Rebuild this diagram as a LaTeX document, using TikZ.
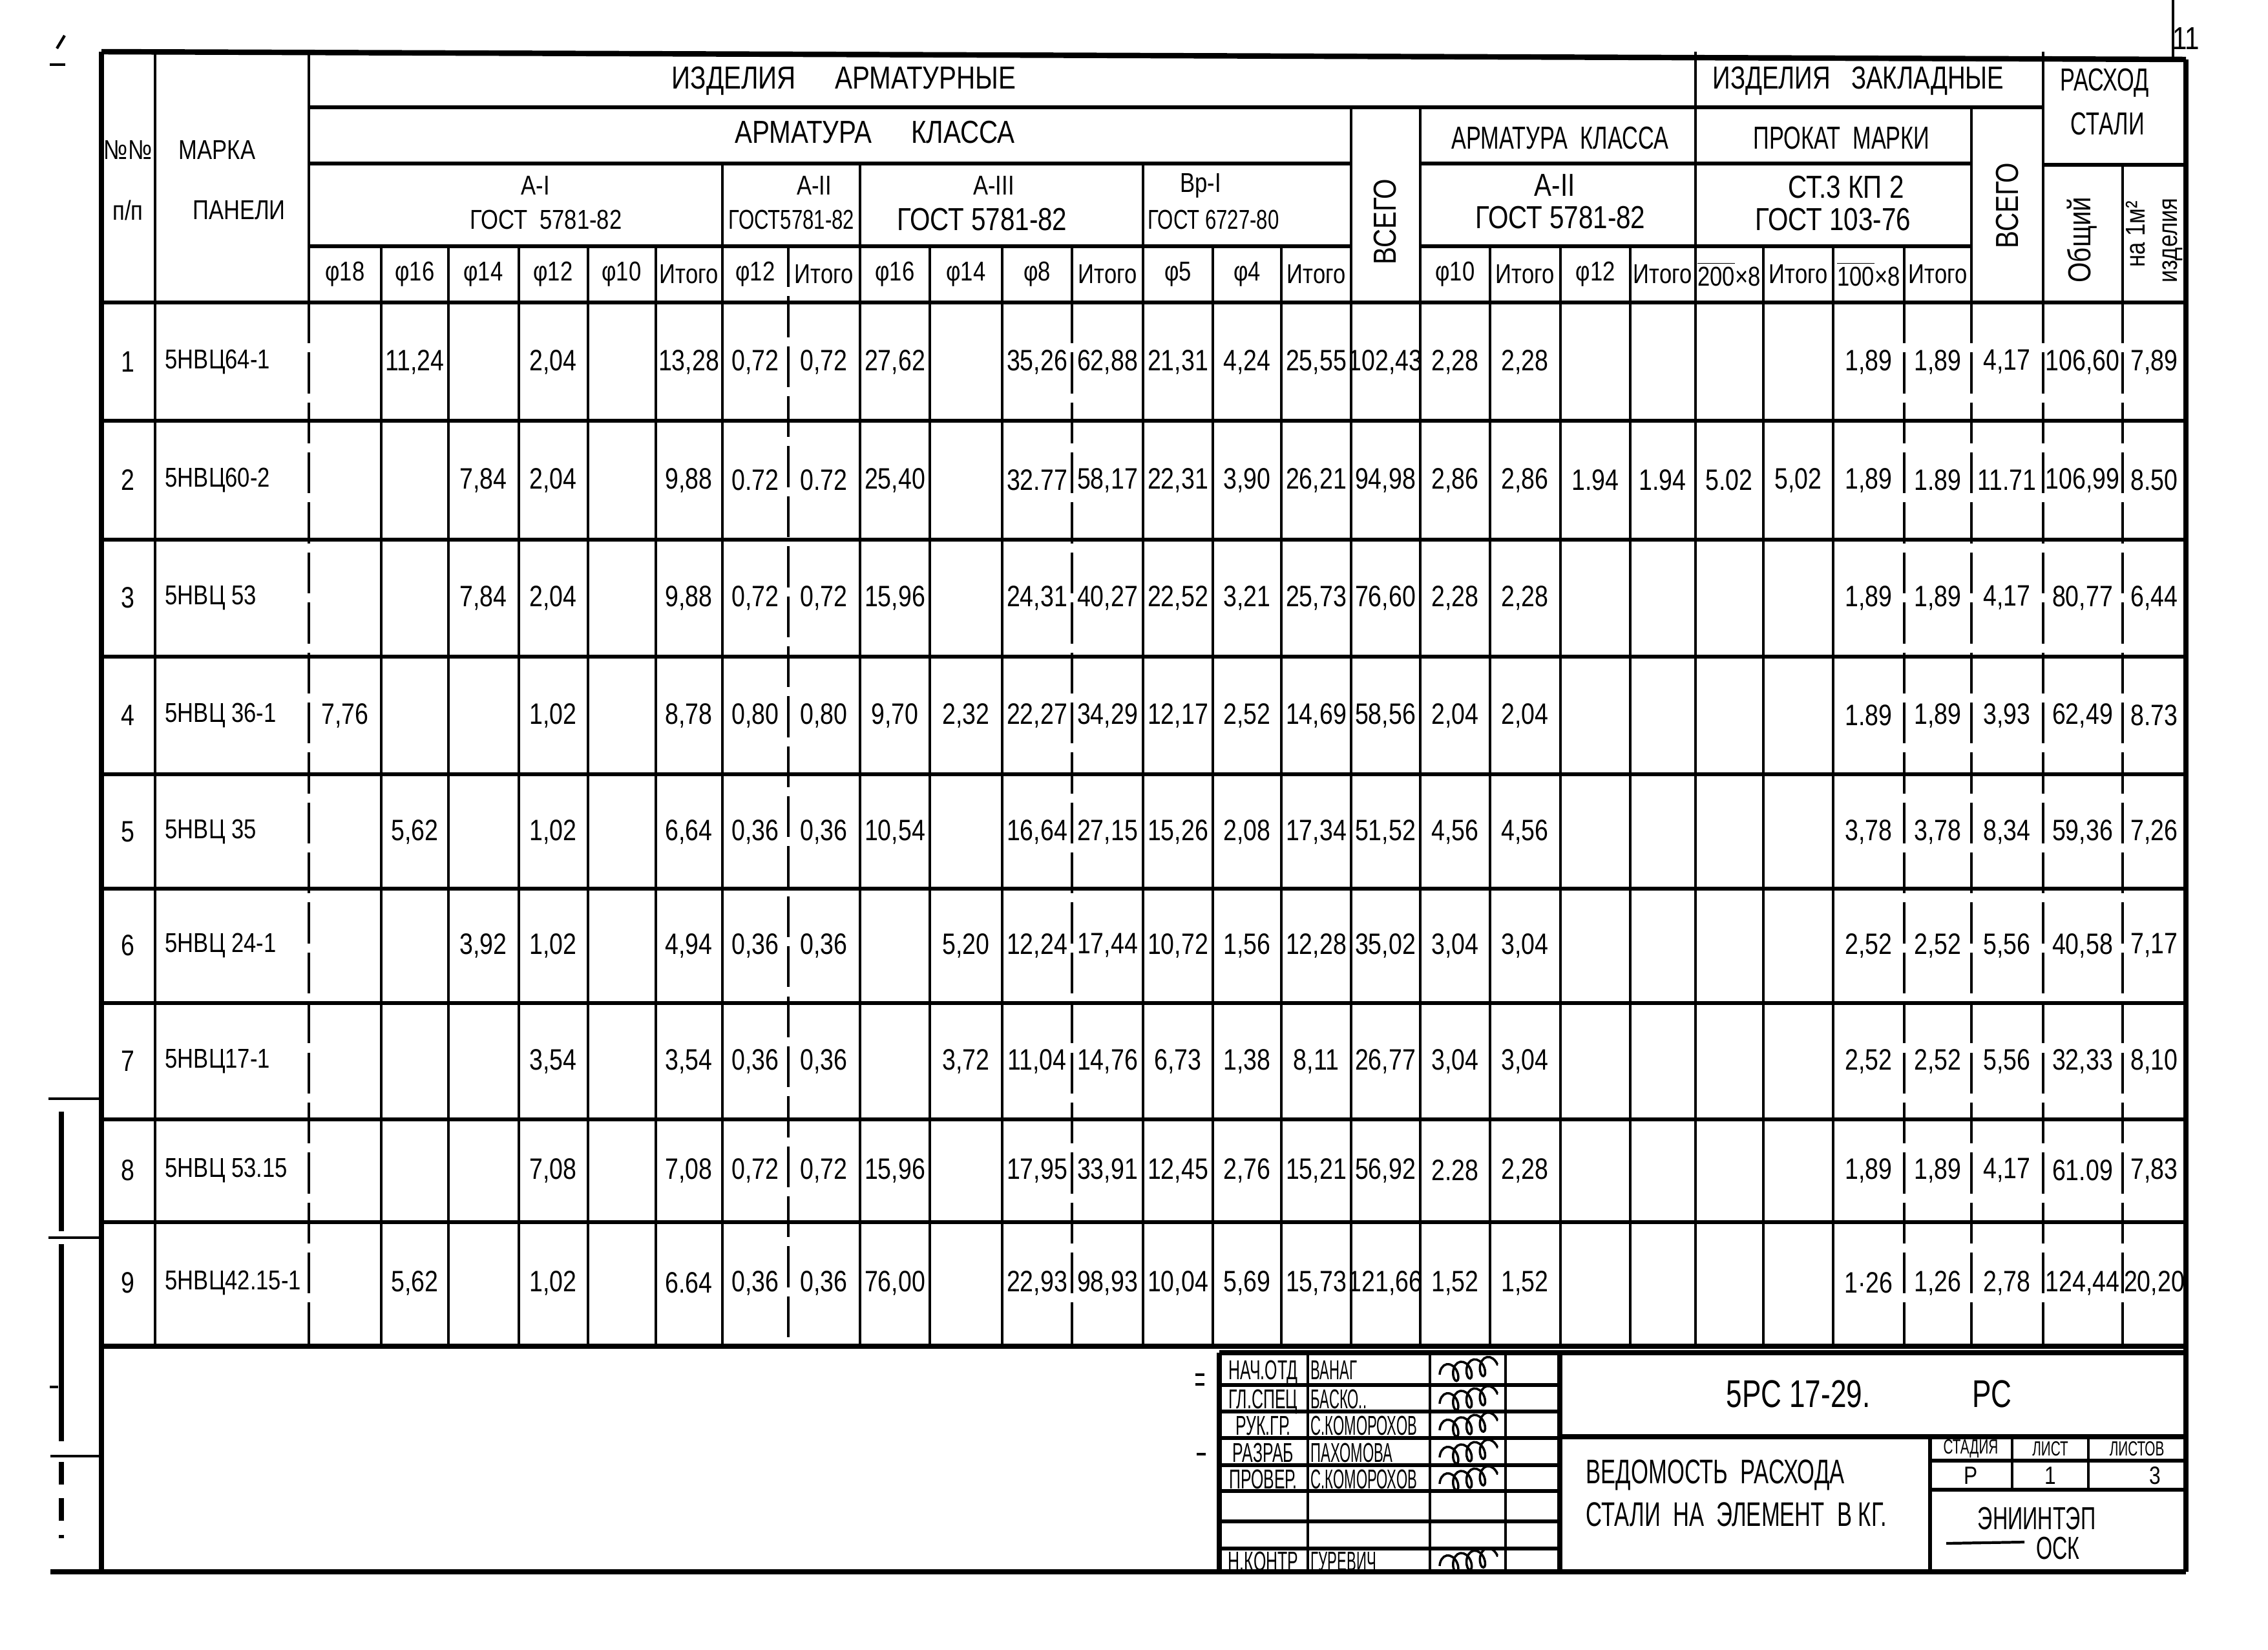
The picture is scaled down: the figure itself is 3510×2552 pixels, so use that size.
\documentclass[tikz,border=0pt]{standalone}
\usepackage{fontspec}
\setmainfont{Liberation Sans}[FakeStretch=0.82]
\usepackage{graphicx}
\usetikzlibrary{decorations.pathmorphing}
\newcommand\nar[2]{\scalebox{#1}[1]{#2}}
\newcommand\D[3]{\node[dat] (d#2x#1) at (c#1 |- r#2) {#3};}
\newcommand\PH[2]{\node[ph] (p#1) at (c#1 |- rh) {#2};}
\begin{document}
\begin{tikzpicture}[x=0.01cm,y=-0.01cm,
  vl/.style={line width=1.2pt},
  hl/.style={line width=1.8pt},
  bold/.style={line width=2.4pt},
  dsh/.style={line width=1.2pt, dash pattern=on 18pt off 4pt},
  dat/.style={font=\fontsize{13}{15}\selectfont, inner sep=0pt},
  ph/.style={font=\fontsize{12}{14}\selectfont, inner sep=0pt},
  hd/.style={font=\fontsize{14}{16}\selectfont, inner sep=0pt},
  hs/.style={font=\fontsize{12}{14}\selectfont, inner sep=0pt},
  tb/.style={font=\fontsize{12}{14}\selectfont, inner sep=0pt, text height=8.6pt, text depth=0pt},
  sig/.style={line width=1pt, decorate, decoration={coil, aspect=0.6, segment length=6pt, amplitude=4pt}}]
\useasboundingbox (0,0) rectangle (3510,2552);

% ---- column and row reference coordinates
\foreach \x [count=\i] in {534,642,748,856,962,1066,1169,1275,1385,1495,1605,1714,1823,1930,2037,2144,2252,2360,2469,2573,2676,2783,2892,2999,3106,3223,3334}
  \coordinate (c\i) at (\x,0);
\foreach \y [count=\i] in {560,743,925,1107,1287,1463,1642,1811,1985}
  \coordinate (r\i) at (0,\y);
\coordinate (rh) at (0,424);
\coordinate (cn) at (198,0);
\coordinate (cm) at (255,0);

% ---- outer frame
\draw[bold] (157,80) -- (3383,92);
\draw[bold] (157,80) -- (157,2432);
\draw[bold] (3383,92) -- (3383,2432);
\draw[bold] (78,2432) -- (3383,2432);

% ---- header horizontals
\draw[hl] (478,166) -- (3162,166);
\draw[hl] (478,253) -- (2091,253);
\draw[hl] (2198,253) -- (3051,253);
\draw[hl] (3162,255) -- (3383,255);
\draw[hl] (478,381) -- (2091,381);
\draw[hl] (2198,381) -- (3051,381);
% ---- row lines
\foreach \y in {468,651,835,1016,1198,1375,1552,1732,1891}
  \draw[hl] (157,\y) -- (3383,\y);
\draw[bold] (157,2083) -- (3383,2083);

% ---- verticals
\draw[vl] (240,80) -- (240,2083);
\draw[vl] (478,80) -- (478,468);
\draw[dsh] (478,468) -- (478,2083);
\foreach \x/\t in {590/381,694/381,803/381,910/381,1015/381,1118/253,1331/253,1439/381,1551/381,1769/253,1877/381,1983/381,2091/166,2198/166,2306/381,2415/381,2523/381,2624/80,2729/381,2837/381}
  \draw[vl] (\x,\t) -- (\x,2083);
\draw[dsh] (1220,381) -- (1220,2083);
\draw[vl] (1659,381) -- (1659,468);
\draw[dsh] (1659,468) -- (1659,2083);
\draw[vl] (2947,381) -- (2947,468);
\draw[dsh] (2947,468) -- (2947,2083);
\draw[vl] (3051,166) -- (3051,468);
\draw[dsh] (3051,468) -- (3051,2083);
\draw[vl] (3162,80) -- (3162,468);
\draw[dsh] (3162,468) -- (3162,2083);
\draw[vl] (3285,255) -- (3285,468);
\draw[dsh] (3285,468) -- (3285,2083);

% ---- header texts
\node[hs] (hn1) at (198,232) {№№};
\node[hs] (hn2) at (198,325) {п/п};
\node[hs] (hm1) at (336,232) {МАРКА};
\node[hs] (hm2) at (370,325) {ПАНЕЛИ};
\node[hd] (ha) at (1306,125) {ИЗДЕЛИЯ \quad АРМАТУРНЫЕ};
\node[hd] (hk) at (1354,205) {АРМАТУРА \quad КЛАССА};
\node[hd] (hz) at (2876,125) {\nar{0.95}{ИЗДЕЛИЯ \ \ ЗАКЛАДНЫЕ}};
\node[hd] (hk2) at (2414,214) {\nar{0.85}{АРМАТУРА \ КЛАССА}};
\node[hd] (hp) at (2850,214) {\nar{0.85}{ПРОКАТ \ МАРКИ}};
\node[hd] (hr1) at (3257,128) {\nar{0.85}{РАСХОД}};
\node[hd] (hr2) at (3262,192) {\nar{0.85}{СТАЛИ}};

\node[hs] (g1a) at (829,287) {А-I};
\node[hs] (g1b) at (845,340) {ГОСТ \ 5781-82};
\node[hs] (g2a) at (1260,287) {А-II};
\node[hs] (g2b) at (1225,340) {\nar{0.9}{ГОСТ5781-82}};
\node[hs] (g3a) at (1538,287) {А-III};
\node[hd] (g3b) at (1520,340) {ГОСТ 5781-82};
\node[hs] (g4a) at (1858,287) {Вр-I};
\node[hs] (g4b) at (1878,340) {\nar{0.9}{ГОСТ 6727-80}};
\node[hd] (g5a) at (2406,287) {А-II};
\node[hd] (g5b) at (2415,337) {ГОСТ 5781-82};
\node[hd] (g6a) at (2857,290) {СТ.3 КП 2};
\node[hd] (g6b) at (2837,340) {ГОСТ 103-76};

\node[hd, rotate=90] (vs1) at (2144,343) {ВСЕГО};
\node[hd, rotate=90] (vs2) at (3106,318) {ВСЕГО};
\node[hd, rotate=90] (vo) at (3222,371) {Общий};
\node[hs, rotate=90] (vn1) at (3305,362) {на 1м²};
\node[hs, rotate=90] (vn2) at (3362,372) {изделия};

\PH{1}{φ18}\PH{2}{φ16}\PH{3}{φ14}\PH{4}{φ12}\PH{5}{φ10}\PH{6}{Итого}
\PH{7}{φ12}\PH{8}{Итого}\PH{9}{φ16}\PH{10}{φ14}\PH{11}{φ8}\PH{12}{Итого}
\PH{13}{φ5}\PH{14}{φ4}\PH{15}{Итого}
\PH{17}{φ10}\PH{18}{Итого}\PH{19}{φ12}\PH{20}{Итого}
\PH{21}{\(\overline{\hbox{200}}\)×8}\PH{22}{Итого}\PH{23}{\(\overline{\hbox{100}}\)×8}\PH{24}{Итого}

% ---- row numbers and panel marks
\foreach \n/\m [count=\i] in {1/5НВЦ64-1,2/5НВЦ60-2,3/5НВЦ 53,4/5НВЦ 36-1,5/5НВЦ 35,6/5НВЦ 24-1,7/5НВЦ17-1,8/5НВЦ 53.15,9/5НВЦ42.15-1}{
  \node[dat] (n\i) at (cn |- r\i) {\n};
  \node[dat, anchor=west, font=\fontsize{12}{14}\selectfont] (m\i) at (cm |- r\i) {\m};
}

% ---- data
\D{2}{1}{11,24}\D{4}{1}{2,04}\D{6}{1}{13,28}\D{7}{1}{0,72}\D{8}{1}{0,72}\D{9}{1}{27,62}\D{11}{1}{35,26}\D{12}{1}{62,88}\D{13}{1}{21,31}\D{14}{1}{4,24}\D{15}{1}{25,55}\D{16}{1}{102,43}\D{17}{1}{2,28}\D{18}{1}{2,28}\D{23}{1}{1,89}\D{24}{1}{1,89}\D{25}{1}{4,17}\D{26}{1}{106,60}\D{27}{1}{7,89}
\D{3}{2}{7,84}\D{4}{2}{2,04}\D{6}{2}{9,88}\D{7}{2}{0.72}\D{8}{2}{0.72}\D{9}{2}{25,40}\D{11}{2}{32.77}\D{12}{2}{58,17}\D{13}{2}{22,31}\D{14}{2}{3,90}\D{15}{2}{26,21}\D{16}{2}{94,98}\D{17}{2}{2,86}\D{18}{2}{2,86}\D{19}{2}{1.94}\D{20}{2}{1.94}\D{21}{2}{5.02}\D{22}{2}{5,02}\D{23}{2}{1,89}\D{24}{2}{1.89}\D{25}{2}{11.71}\D{26}{2}{106,99}\D{27}{2}{8.50}
\D{3}{3}{7,84}\D{4}{3}{2,04}\D{6}{3}{9,88}\D{7}{3}{0,72}\D{8}{3}{0,72}\D{9}{3}{15,96}\D{11}{3}{24,31}\D{12}{3}{40,27}\D{13}{3}{22,52}\D{14}{3}{3,21}\D{15}{3}{25,73}\D{16}{3}{76,60}\D{17}{3}{2,28}\D{18}{3}{2,28}\D{23}{3}{1,89}\D{24}{3}{1,89}\D{25}{3}{4,17}\D{26}{3}{80,77}\D{27}{3}{6,44}
\D{1}{4}{7,76}\D{4}{4}{1,02}\D{6}{4}{8,78}\D{7}{4}{0,80}\D{8}{4}{0,80}\D{9}{4}{9,70}\D{10}{4}{2,32}\D{11}{4}{22,27}\D{12}{4}{34,29}\D{13}{4}{12,17}\D{14}{4}{2,52}\D{15}{4}{14,69}\D{16}{4}{58,56}\D{17}{4}{2,04}\D{18}{4}{2,04}\D{23}{4}{1.89}\D{24}{4}{1,89}\D{25}{4}{3,93}\D{26}{4}{62,49}\D{27}{4}{8.73}
\D{2}{5}{5,62}\D{4}{5}{1,02}\D{6}{5}{6,64}\D{7}{5}{0,36}\D{8}{5}{0,36}\D{9}{5}{10,54}\D{11}{5}{16,64}\D{12}{5}{27,15}\D{13}{5}{15,26}\D{14}{5}{2,08}\D{15}{5}{17,34}\D{16}{5}{51,52}\D{17}{5}{4,56}\D{18}{5}{4,56}\D{23}{5}{3,78}\D{24}{5}{3,78}\D{25}{5}{8,34}\D{26}{5}{59,36}\D{27}{5}{7,26}
\D{3}{6}{3,92}\D{4}{6}{1,02}\D{6}{6}{4,94}\D{7}{6}{0,36}\D{8}{6}{0,36}\D{10}{6}{5,20}\D{11}{6}{12,24}\D{12}{6}{17,44}\D{13}{6}{10,72}\D{14}{6}{1,56}\D{15}{6}{12,28}\D{16}{6}{35,02}\D{17}{6}{3,04}\D{18}{6}{3,04}\D{23}{6}{2,52}\D{24}{6}{2,52}\D{25}{6}{5,56}\D{26}{6}{40,58}\D{27}{6}{7,17}
\D{4}{7}{3,54}\D{6}{7}{3,54}\D{7}{7}{0,36}\D{8}{7}{0,36}\D{10}{7}{3,72}\D{11}{7}{11,04}\D{12}{7}{14,76}\D{13}{7}{6,73}\D{14}{7}{1,38}\D{15}{7}{8,11}\D{16}{7}{26,77}\D{17}{7}{3,04}\D{18}{7}{3,04}\D{23}{7}{2,52}\D{24}{7}{2,52}\D{25}{7}{5,56}\D{26}{7}{32,33}\D{27}{7}{8,10}
\D{4}{8}{7,08}\D{6}{8}{7,08}\D{7}{8}{0,72}\D{8}{8}{0,72}\D{9}{8}{15,96}\D{11}{8}{17,95}\D{12}{8}{33,91}\D{13}{8}{12,45}\D{14}{8}{2,76}\D{15}{8}{15,21}\D{16}{8}{56,92}\D{17}{8}{2.28}\D{18}{8}{2,28}\D{23}{8}{1,89}\D{24}{8}{1,89}\D{25}{8}{4,17}\D{26}{8}{61.09}\D{27}{8}{7,83}
\D{2}{9}{5,62}\D{4}{9}{1,02}\D{6}{9}{6.64}\D{7}{9}{0,36}\D{8}{9}{0,36}\D{9}{9}{76,00}\D{11}{9}{22,93}\D{12}{9}{98,93}\D{13}{9}{10,04}\D{14}{9}{5,69}\D{15}{9}{15,73}\D{16}{9}{121,66}\D{17}{9}{1,52}\D{18}{9}{1,52}\D{23}{9}{1·26}\D{24}{9}{1,26}\D{25}{9}{2,78}\D{26}{9}{124,44}\D{27}{9}{20,20}

% ---- title block
\draw[bold] (1887,2093) -- (3383,2093);
\draw[bold] (1887,2093) -- (1887,2432);
\foreach \x in {2024,2213,2330}
  \draw[vl] (\x,2093) -- (\x,2432);
\draw[bold] (2414,2093) -- (2414,2432);
\foreach \y in {2143,2184,2225,2267,2307,2354,2396}
  \draw[hl] (1887,\y) -- (2414,\y);
\draw[bold] (2414,2223) -- (3383,2223);
\draw[hl] (2987,2223) -- (2987,2432);
\draw[vl] (3114,2223) -- (3114,2305);
\draw[vl] (3232,2223) -- (3232,2305);
\draw[hl] (2987,2260) -- (3383,2260);
\draw[hl] (2987,2305) -- (3383,2305);

\foreach \r/\n/\y in {НАЧ.ОТД/ВАНАГ/2119,ГЛ.СПЕЦ/БАСКО../2164,РУК.ГР./С.КОМОРОХОВ/2205,РАЗРАБ/ПАХОМОВА/2247,ПРОВЕР./С.КОМОРОХОВ/2288,Н.КОНТР/ГУРЕВИЧ/2415}{
  \node[tb] (t\y) at (1955,\y) {\nar{0.72}{\r}};
  \node[tb, anchor=west] (u\y) at (2028,\y) {\nar{0.64}{\n}};
}
\foreach \y in {2119,2164,2205,2247,2288,2415}
  \draw[sig] (2228,\y+8) -- (2318,\y-8);

\node[font=\fontsize{17}{19}\selectfont, inner sep=0pt] (ts1) at (2783,2157) {\nar{0.9}{5РС 17-29.}};
\node[font=\fontsize{17}{19}\selectfont, inner sep=0pt] (ts2) at (3083,2157) {\nar{0.9}{РС}};
\node[font=\fontsize{15}{17}\selectfont, inner sep=0pt, anchor=west] (tv1) at (2454,2282) {\nar{0.8}{ВЕДОМОСТЬ \ РАСХОДА}};
\node[font=\fontsize{15}{17}\selectfont, inner sep=0pt, anchor=west] (tv2) at (2454,2343) {\nar{0.8}{СТАЛИ \ НА \ ЭЛЕМЕНТ \ В КГ.}};
\node[font=\fontsize{9}{11}\selectfont, inner sep=0pt] (st1) at (3050,2242) {\nar{0.8}{СТАДИЯ}};
\node[font=\fontsize{9}{11}\selectfont, inner sep=0pt] (st2) at (3173,2242) {\nar{0.8}{ЛИСТ}};
\node[font=\fontsize{9}{11}\selectfont, inner sep=0pt] (st3) at (3307,2242) {\nar{0.8}{ЛИСТОВ}};
\node[font=\fontsize{11}{13}\selectfont, inner sep=0pt] (sv1) at (3050,2283) {Р};
\node[font=\fontsize{11}{13}\selectfont, inner sep=0pt] (sv2) at (3173,2283) {1};
\node[font=\fontsize{11}{13}\selectfont, inner sep=0pt] (sv3) at (3335,2283) {3};
\node[font=\fontsize{14}{16}\selectfont, inner sep=0pt] (so1) at (3152,2350) {\nar{0.8}{ЭНИИНТЭП}};
\node[font=\fontsize{14}{16}\selectfont, inner sep=0pt] (so2) at (3185,2396) {\nar{0.8}{ОСК}};
\draw[line width=1.2pt] (3012,2388) -- (3133,2386);

% ---- small margin marks
\draw[line width=1.2pt] (1850,2127) -- (1864,2127) (1850,2142) -- (1864,2142) (1852,2250) -- (1866,2250);
\draw[line width=1.2pt] (3363,0) -- (3363,92);
\node[font=\fontsize{14}{16}\selectfont, inner sep=0pt] (pg) at (3383,60) {11};
\draw[line width=1.2pt] (88,75) -- (100,55);
\draw[line width=1.2pt] (77,100) -- (101,100);
\draw[vl] (75,1700) -- (157,1700);
\draw[vl] (75,1915) -- (157,1915);
\draw[vl] (78,2253) -- (157,2253);
\draw[line width=2.4pt] (95,1720) -- (95,1905);
\draw[line width=2.4pt] (95,1925) -- (95,2230);
\draw[line width=2.4pt, dash pattern=on 10pt off 6pt] (95,2262) -- (95,2380);
\draw[line width=1.2pt] (77,2146) -- (90,2146);
\end{tikzpicture}
\end{document}
